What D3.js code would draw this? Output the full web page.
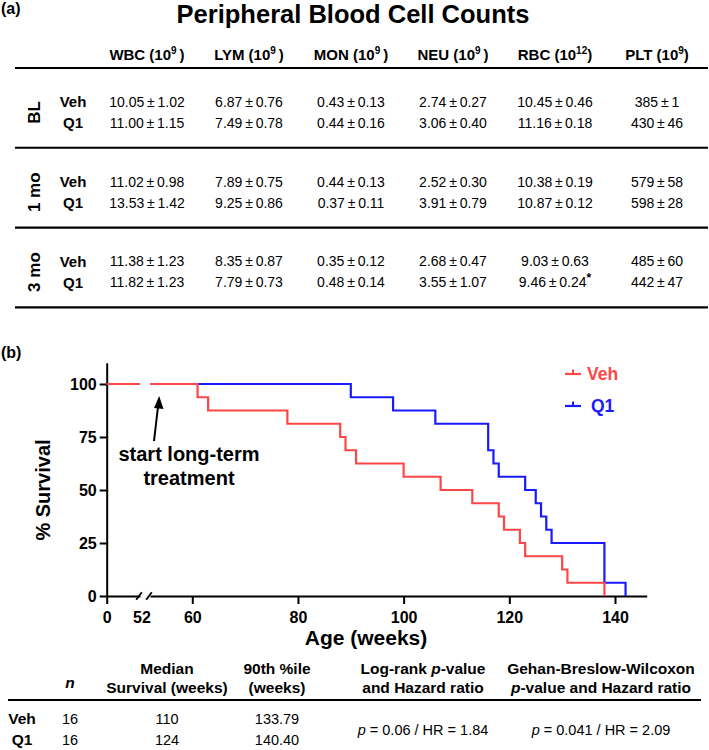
<!DOCTYPE html>
<html><head><meta charset="utf-8">
<script src="https://cdn.jsdelivr.net/npm/d3@7"></script>
<style>body{margin:0;background:#fff}svg{display:block;font-family:"Liberation Sans",Arial,sans-serif}</style>
</head><body><svg id="c" width="709" height="750"></svg>
<script>
// ---------- Data: panel (a) ----------
const groups = ["BL", "1 mo", "3 mo"];
const treatments = ["Veh", "Q1"];
const columns = ["WBC", "LYM", "MON", "NEU", "RBC", "PLT"];
const exponents = ["9", "9", "9", "9", "12", "9"];
// order: BL Veh, BL Q1, 1mo Veh, 1mo Q1, 3mo Veh, 3mo Q1
const wbcMean = [10.05, 11.00, 11.02, 13.53, 11.38, 11.82];
const wbcSem  = [1.02, 1.15, 0.98, 1.42, 1.23, 1.23];
const lymMean = [6.87, 7.49, 7.89, 9.25, 8.35, 7.79];
const lymSem  = [0.76, 0.78, 0.75, 0.86, 0.87, 0.73];
const monMean = [0.43, 0.44, 0.44, 0.37, 0.35, 0.48];
const monSem  = [0.13, 0.16, 0.13, 0.11, 0.12, 0.14];
const neuMean = [2.74, 3.06, 2.52, 3.91, 2.68, 3.55];
const neuSem  = [0.27, 0.40, 0.30, 0.79, 0.47, 1.07];
const rbcMean = [10.45, 11.16, 10.38, 10.87, 9.03, 9.46];
const rbcSem  = [0.46, 0.18, 0.19, 0.12, 0.63, 0.24];
const pltMean = [385, 430, 579, 598, 485, 442];
const pltSem  = [1, 46, 58, 28, 60, 47];
const rbcSignif = ["", "", "", "", "", "*"];
const decimals = [2, 2, 2, 2, 2, 0];

// ---------- Data: panel (b) ----------
const vehDeathWeeks = [61, 63, 78, 88, 89, 91, 100, 107, 113, 118, 119, 122, 123, 130, 131, 138];
const q1DeathWeeks  = [90, 98, 106, 116, 116, 117, 118, 123, 125, 126, 127, 128, 138, 138, 138, 142];
const yTicks = [0, 25, 50, 75, 100];
const xTicks = [60, 80, 100, 120, 140];
const breakWeek = 52;
const xMax = 146;
const yMax = 110;

// ---------- Data: stats table ----------
const statGroups = ["Veh", "Q1"];
const nValues = [16, 16];
const medianSurvival = ["110", "124"];
const pct90 = ["133.79", "140.40"];
const logRank = {p: "0.06", hr: "1.84"};
const gehan = {p: "0.041", hr: "2.09"};

const colors = {Veh: "#ff4646", Q1: "#1a1aff"};

const svg = d3.select("#c");
const bold = "bold";

// ================= Panel (a) =================
svg.append("text").attr("x", 1).attr("y", 14).attr("font-size", 16).attr("font-weight", bold).text("(a)");
svg.append("text").attr("x", 353).attr("y", 23).attr("text-anchor", "middle")
  .attr("font-size", 25.5).attr("font-weight", bold).text("Peripheral Blood Cell Counts");

const colX = d3.scalePoint().domain(columns).range([147, 657]);
const groupBand = d3.scaleBand().domain(groups).range([68, 307.3]);

// headers
columns.forEach((c, i) => {
  const t = svg.append("text").attr("x", colX(c)).attr("y", 60).attr("text-anchor", "middle")
    .attr("font-size", 15).attr("font-weight", bold);
  t.append("tspan").text(c + " (10");
  t.append("tspan").attr("dy", -6).attr("font-size", 10).text(exponents[i]);
  t.append("tspan").attr("dy", 6).text(i < 4 ? "\u2009)" : ")");
});

// horizontal rules
const ruleYs = [groupBand.range()[0]].concat(groups.map(g => groupBand(g) + groupBand.bandwidth()));
svg.selectAll("line.rule").data(ruleYs).join("line").attr("class", "rule")
  .attr("x1", 15).attr("x2", 708).attr("y1", d => d).attr("y2", d => d)
  .attr("stroke", "#000").attr("stroke-width", 2.2);

const means = [wbcMean, lymMean, monMean, neuMean, rbcMean, pltMean];
const sems = [wbcSem, lymSem, monSem, neuSem, rbcSem, pltSem];
const rowOffset = d3.scalePoint().domain(treatments).range([34, 55]);

groups.forEach((g, gi) => {
  const top = groupBand(g);
  const mid = top + (rowOffset("Veh") + rowOffset("Q1")) / 2;
  svg.append("text").attr("transform", `translate(40,${mid}) rotate(-90)`)
    .attr("text-anchor", "middle").attr("font-size", 17).attr("font-weight", bold).text(g);
  treatments.forEach((tr, ti) => {
    const y = top + rowOffset(tr);
    svg.append("text").attr("x", 73).attr("y", y).attr("dy", "0.35em").attr("text-anchor", "middle")
      .attr("font-size", 15).attr("font-weight", bold).text(tr);
    const idx = gi * 2 + ti;
    columns.forEach((c, ci) => {
      const m = means[ci][idx].toFixed(decimals[ci]);
      const s = sems[ci][idx].toFixed(decimals[ci]);
      const t = svg.append("text").attr("x", colX(c)).attr("y", y).attr("dy", "0.35em")
        .attr("text-anchor", "middle").attr("font-size", 14).text(`${m}\u2009±\u2009${s}`);
      if (c === "RBC" && rbcSignif[idx]) {
        t.append("tspan").attr("dy", -5).attr("font-size", 12).attr("font-weight", bold).text(rbcSignif[idx]);
      }
    });
  });
});

// ================= Panel (b) =================
svg.append("text").attr("x", 1).attr("y", 358).attr("font-size", 16).attr("font-weight", bold).text("(b)");

const y = d3.scaleLinear().domain([0, yMax]).range([596, 362.8]);
const x1 = d3.scaleLinear().domain([0, breakWeek]).range([106.7, 140]);
const x2 = d3.scaleLinear().domain([breakWeek, xMax]).range([150, 646.7]);

function styleAxis(g) {
  g.select(".domain").attr("stroke-width", 2);
  g.selectAll(".tick line").attr("stroke-width", 2);
  g.selectAll(".tick text").attr("font-size", 16).attr("font-weight", bold)
    .attr("font-family", '"Liberation Sans",Arial,sans-serif').attr("fill", "#000");
}

svg.append("g").attr("transform", `translate(${x1(0)},0)`)
  .call(d3.axisLeft(y).tickValues(yTicks).tickSize(7).tickPadding(3).tickSizeOuter(0))
  .call(styleAxis);

svg.append("g").attr("transform", `translate(0,${y(0)})`)
  .call(d3.axisBottom(x1).tickValues([0]).tickSize(8).tickPadding(8).tickSizeOuter(0))
  .call(styleAxis);
svg.append("g").attr("transform", `translate(0,${y(0)})`)
  .call(d3.axisBottom(x2).tickValues(xTicks).tickSize(8).tickPadding(8).tickSizeOuter(0))
  .call(styleAxis);
// break label and marks
svg.append("text").attr("x", x1(breakWeek) + 2).attr("y", y(0) + 16).attr("dy", "0.71em")
  .attr("text-anchor", "middle").attr("font-size", 16).attr("font-weight", bold).text(breakWeek);
[x1(breakWeek) - 1, x2(breakWeek) - 1].forEach(bx => {
  svg.append("line").attr("x1", bx - 2.8).attr("y1", y(0) + 3.8).attr("x2", bx + 2.8).attr("y2", y(0) - 3.8)
    .attr("stroke", "#000").attr("stroke-width", 1.8);
});

// Kaplan-Meier step points
function kmPoints(deaths) {
  const counts = d3.rollups(deaths, v => v.length, d => d).sort((a, b) => a[0] - b[0]);
  let alive = deaths.length, s = 100;
  const pts = [[0, 100]];
  counts.forEach(([w, c]) => { s = s * (alive - c) / alive; alive -= c; pts.push([w, s]); });
  return pts;
}
function valueAt(pts, t) { let v = 100; pts.forEach(p => { if (p[0] <= t) v = p[1]; }); return v; }

const series = [["Q1", q1DeathWeeks], ["Veh", vehDeathWeeks]];
series.forEach(([name, deaths]) => {
  const pts = kmPoints(deaths);
  const v52 = valueAt(pts, breakWeek);
  const seg1 = [[0, 100], [breakWeek, v52]];
  const seg2 = [[breakWeek, v52]].concat(pts.filter(p => p[0] > breakWeek));
  const l1 = d3.line().x(p => x1(p[0])).y(p => y(p[1])).curve(d3.curveStepAfter);
  const l2 = d3.line().x(p => x2(p[0])).y(p => y(p[1])).curve(d3.curveStepAfter);
  svg.append("path").attr("d", l1(seg1)).attr("fill", "none").attr("stroke", colors[name]).attr("stroke-width", 2.2);
  svg.append("path").attr("d", l2(seg2)).attr("fill", "none").attr("stroke", colors[name]).attr("stroke-width", 2.2);
});

// legend
const legendY = d3.scalePoint().domain(treatments).range([374, 406]);
treatments.forEach(tr => {
  const ly = legendY(tr);
  svg.append("line").attr("x1", 565).attr("x2", 581).attr("y1", ly).attr("y2", ly)
    .attr("stroke", colors[tr]).attr("stroke-width", 2.2);
  svg.append("line").attr("x1", 573).attr("x2", 573).attr("y1", ly).attr("y2", ly - 4.5)
    .attr("stroke", colors[tr]).attr("stroke-width", 2);
  svg.append("text").attr("x", tr === "Veh" ? 587 : 591).attr("y", ly).attr("dy", "0.36em")
    .attr("font-size", 17.5).attr("font-weight", bold).attr("fill", colors[tr]).text(tr);
});

// annotation
svg.append("line").attr("x1", 154).attr("y1", 441).attr("x2", 158.2).attr("y2", 405)
  .attr("stroke", "#000").attr("stroke-width", 2);
svg.append("path").attr("d", "M159.2,396 L154,408 L163.5,409 Z").attr("fill", "#000");
svg.append("text").attr("x", 189).attr("y", 461).attr("text-anchor", "middle")
  .attr("font-size", 20).attr("font-weight", bold).text("start long-term");
svg.append("text").attr("x", 189).attr("y", 485).attr("text-anchor", "middle")
  .attr("font-size", 20).attr("font-weight", bold).text("treatment");

// axis titles
svg.append("text").attr("transform", "translate(50,490) rotate(-90)").attr("text-anchor", "middle")
  .attr("font-size", 20).attr("font-weight", bold).text("% Survival");
svg.append("text").attr("x", 366).attr("y", 645).attr("text-anchor", "middle")
  .attr("font-size", 21).attr("font-weight", bold).text("Age (weeks)");

// ================= Stats table =================
const statCols = ["n", "median", "p90", "logrank", "gehan"];
const statX = d3.scaleOrdinal().domain(statCols).range([70, 167, 277, 423, 601]);
const hdr = (x, yy, parts) => {
  const t = svg.append("text").attr("x", x).attr("y", yy).attr("dy", "0.35em").attr("text-anchor", "middle")
    .attr("font-size", 15.5).attr("font-weight", bold);
  parts.forEach(p => { const s = t.append("tspan").text(p[0]); if (p[1]) s.attr("font-style", "italic"); });
};
hdr(statX("n"), 683, [["n", true]]);
hdr(statX("median"), 669, [["Median"]]);
hdr(statX("median"), 688, [["Survival (weeks)"]]);
hdr(statX("p90"), 669, [["90th %ile"]]);
hdr(statX("p90"), 688, [["(weeks)"]]);
hdr(statX("logrank"), 669, [["Log-rank "], ["p", true], ["-value"]]);
hdr(statX("logrank"), 688, [["and Hazard ratio"]]);
hdr(statX("gehan"), 669, [["Gehan-Breslow-Wilcoxon"]]);
hdr(statX("gehan"), 688, [["p", true], ["-value and Hazard ratio"]]);

svg.append("line").attr("x1", 8).attr("x2", 701).attr("y1", 700).attr("y2", 700)
  .attr("stroke", "#000").attr("stroke-width", 2.2);

const statRowY = d3.scalePoint().domain(statGroups).range([719, 740]);
statGroups.forEach((g, i) => {
  const yy = statRowY(g);
  svg.append("text").attr("x", 22).attr("y", yy).attr("dy", "0.35em").attr("text-anchor", "middle")
    .attr("font-size", 15.5).attr("font-weight", bold).text(g);
  [["n", nValues[i]], ["median", medianSurvival[i]], ["p90", pct90[i]]].forEach(([c, v]) => {
    svg.append("text").attr("x", statX(c)).attr("y", yy).attr("dy", "0.35em").attr("text-anchor", "middle")
      .attr("font-size", 14.5).text(v);
  });
});
const midY = (statRowY("Veh") + statRowY("Q1")) / 2;
[["logrank", logRank], ["gehan", gehan]].forEach(([c, v]) => {
  const t = svg.append("text").attr("x", statX(c)).attr("y", midY).attr("dy", "0.35em").attr("text-anchor", "middle")
    .attr("font-size", 14.5);
  t.append("tspan").attr("font-style", "italic").text("p");
  t.append("tspan").text(` = ${v.p} / HR = ${v.hr}`);
});
</script></body></html>
